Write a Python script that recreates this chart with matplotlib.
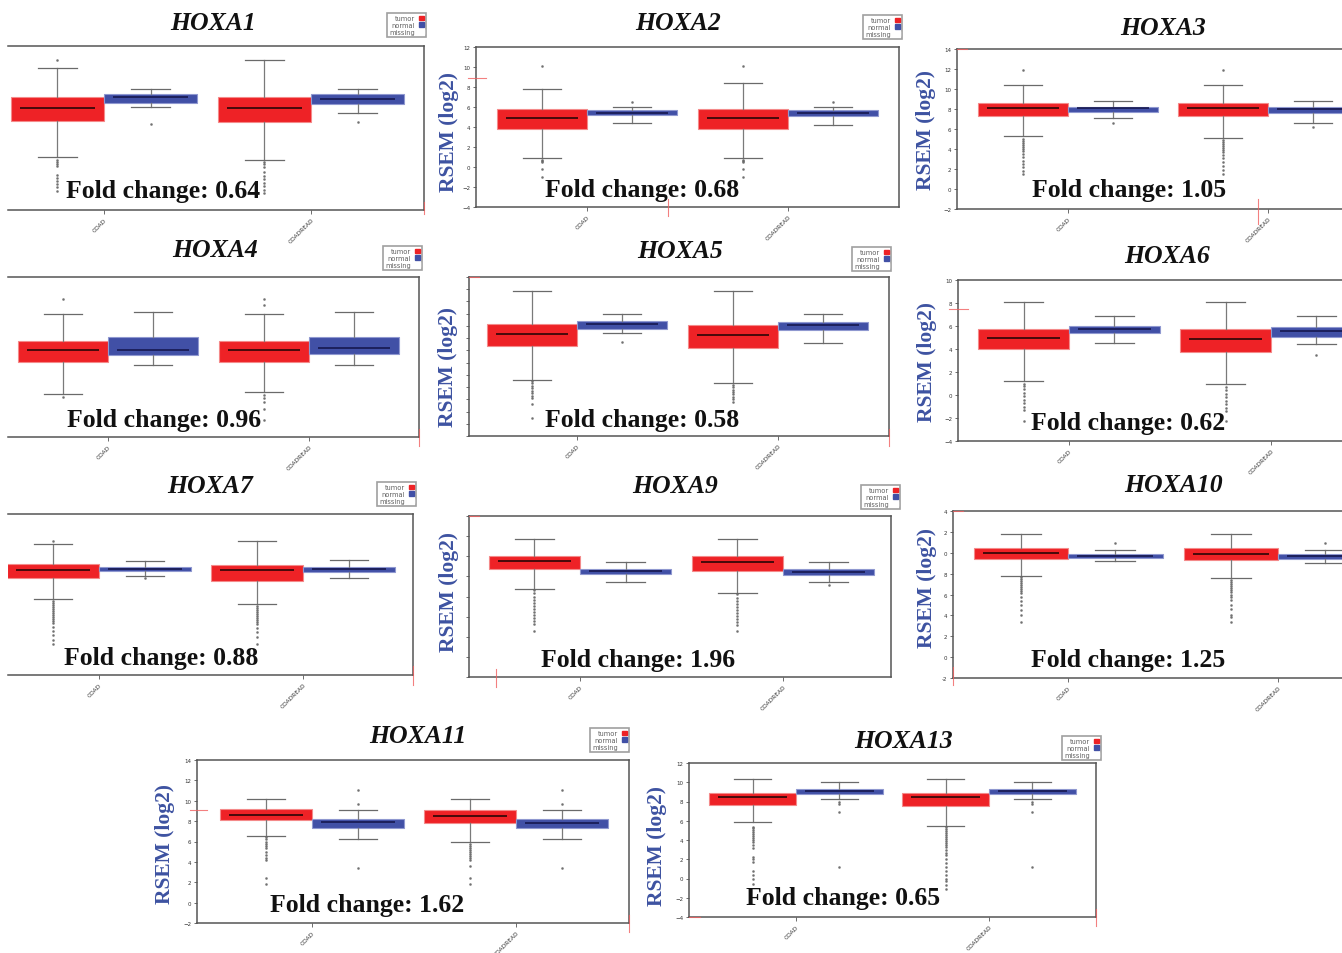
import matplotlib
matplotlib.use('Agg')
import matplotlib.pyplot as plt
from matplotlib.patches import Patch
from matplotlib.lines import Line2D

W, H = 1342, 954

# ---------------- data ----------------
genes = ['HOXA1', 'HOXA2', 'HOXA3', 'HOXA4', 'HOXA5', 'HOXA6',
         'HOXA7', 'HOXA9', 'HOXA10', 'HOXA11', 'HOXA13']
fold_changes = ['0.64', '0.68', '1.05', '0.96', '0.58', '0.62',
                '0.88', '1.96', '1.25', '1.62', '0.65']
cohorts = ['COAD', 'COADREAD']
groups = ['tumor', 'normal', 'missing']

# box stats per gene: [whislo, q1, med, q3, whishi]
# order: COAD tumor, COAD normal, COADREAD tumor, COADREAD normal
hoxa1_stats = [[1.17, 4.68, 5.95, 7.02, 9.85], [6.05, 6.44, 7.02, 7.32, 7.8],
               [0.88, 4.59, 5.95, 7.02, 10.63], [5.46, 6.34, 6.83, 7.32, 7.8]]
hoxa1_fliers = [[10.6, 0.9, 0.7, 0.5, 0.3, -0.6, -0.9, -1.2, -1.5, -1.8, -2.1], [4.4],
                [0.7, 0.5, 0.2, -0.3, -0.7, -1.0, -1.4, -1.7, -2.0, -2.3], [4.6]]

hoxa2_stats = [[0.9, 3.83, 4.9, 5.83, 7.83], [4.43, 5.17, 5.43, 5.67, 6.0],
               [0.9, 3.83, 4.9, 5.83, 8.43], [4.23, 5.1, 5.4, 5.67, 6.0]]
hoxa2_fliers = [[10.1, 0.7, 0.6, 0.5, -0.2, -1.0], [6.5],
                [10.1, 0.7, 0.6, 0.5, -0.2, -1.0], [6.5]]

hoxa3_stats = [[5.27, 7.33, 8.1, 8.6, 10.43], [7.07, 7.73, 8.1, 8.17, 8.77],
               [5.07, 7.27, 8.1, 8.6, 10.43], [6.57, 7.6, 8.0, 8.23, 8.77]]
hoxa3_fliers = [[11.9, 5.0, 4.8, 4.6, 4.4, 4.2, 4.0, 3.8, 3.5, 3.2, 2.8, 2.5, 2.2, 1.8, 1.5], [6.57],
                [11.9, 4.9, 4.7, 4.5, 4.3, 4.1, 3.9, 3.7, 3.4, 3.1, 2.7, 2.3, 1.9, 1.5], [6.23]]

hoxa4_stats = [[0.3, 3.53, 4.7, 5.57, 8.3], [3.2, 4.23, 4.7, 5.97, 8.53],
               [0.53, 3.53, 4.7, 5.57, 8.3], [3.2, 4.3, 4.9, 6.03, 8.53]]
hoxa4_fliers = [[9.8, 0.0], [],
                [9.8, 9.2, 0.23, -0.1, -0.47, -1.2, -2.27], []]

hoxa5_stats = [[2.61, 5.33, 6.37, 7.13, 9.86], [6.42, 6.78, 7.13, 7.4, 7.95],
               [2.36, 5.22, 6.23, 7.05, 9.86], [5.6, 6.64, 7.05, 7.32, 7.95]]
hoxa5_fliers = [[2.5, 2.3, 2.1, 1.9, 1.7, 1.5, 1.3, 1.1, 0.6, -0.5], [5.69],
                [2.2, 2.0, 1.8, 1.6, 1.4, 1.2, 1.0, 0.8], []]

hoxa6_stats = [[1.22, 3.97, 4.99, 5.77, 8.09], [4.49, 5.36, 5.71, 6.0, 6.87],
               [0.99, 3.77, 4.9, 5.71, 8.09], [4.41, 5.07, 5.57, 5.91, 6.87]]
hoxa6_fliers = [[1.0, 0.8, 0.5, 0.2, -0.1, -0.4, -0.7, -1.0, -1.3, -2.3], [],
                [0.7, 0.4, 0.1, -0.2, -0.5, -0.8, -1.1, -1.4, -2.3], [3.45]]

hoxa7_stats = [[3.56, 5.61, 6.44, 7.03, 9.02], [5.87, 6.37, 6.54, 6.77, 7.3],
               [3.06, 5.38, 6.44, 6.97, 9.28], [5.61, 6.21, 6.5, 6.77, 7.46]]
hoxa7_fliers = [[9.28, 3.4, 3.2, 3.0, 2.8, 2.6, 2.4, 2.2, 2.0, 1.8, 1.6, 1.4, 1.2, 0.8, 0.4, 0.0, -0.5, -0.9],
                [5.64],
                [2.9, 2.7, 2.5, 2.3, 2.1, 1.9, 1.7, 1.5, 1.3, 1.1, 0.7, 0.3, -0.2, -0.9], []]

hoxa9_stats = [[6.78, 8.77, 9.53, 10.03, 11.75], [7.44, 8.27, 8.54, 8.77, 9.43],
               [6.35, 8.54, 9.46, 9.99, 11.75], [7.44, 8.17, 8.47, 8.7, 9.43]]
hoxa9_fliers = [[6.6, 6.3, 6.0, 5.7, 5.4, 5.1, 4.8, 4.5, 4.2, 3.9, 3.6, 3.3, 2.6], [],
                [6.2, 5.9, 5.6, 5.3, 5.0, 4.7, 4.4, 4.1, 3.8, 3.5, 3.2, 2.6], [7.18]]

hoxa10_stats = [[7.82, 9.42, 9.97, 10.45, 11.82], [9.17, 9.49, 9.65, 9.84, 10.29],
                [7.57, 9.33, 9.9, 10.45, 11.82], [9.0, 9.42, 9.65, 9.84, 10.29]]
hoxa10_fliers = [[7.7, 7.5, 7.3, 7.1, 6.9, 6.7, 6.5, 6.3, 6.1, 5.8, 5.4, 5.0, 4.5, 4.0, 3.4], [10.96],
                 [7.4, 7.2, 7.0, 6.8, 6.6, 6.4, 6.2, 6.0, 5.8, 5.5, 5.0, 4.6, 4.0, 3.8, 3.4], [10.96]]
# the scanned axis shows only the last digit of 10, 12, 14
hoxa10_ytick_labels = ['-2', '0', '2', '4', '6', '8', '0', '2', '4']

hoxa11_stats = [[6.55, 8.08, 8.61, 9.16, 10.21], [6.29, 7.33, 7.92, 8.18, 9.1],
                [5.96, 7.86, 8.51, 9.1, 10.21], [6.29, 7.33, 7.86, 8.18, 9.1]]
hoxa11_fliers = [[6.4, 6.2, 6.0, 5.8, 5.6, 5.4, 5.0, 4.7, 4.4, 4.2, 2.37, 1.8], [11.06, 9.65, 3.44],
                 [5.8, 5.6, 5.4, 5.2, 5.0, 4.8, 4.6, 4.4, 4.2, 3.6, 2.37, 1.8], [11.06, 9.65, 3.44]]

hoxa13_stats = [[5.84, 7.61, 8.47, 8.89, 10.34], [8.3, 8.82, 9.06, 9.3, 10.03],
                [5.49, 7.5, 8.44, 8.89, 10.34], [8.3, 8.79, 9.06, 9.3, 10.03]]
hoxa13_fliers = [[5.4, 5.2, 5.0, 4.8, 4.6, 4.4, 4.2, 4.0, 3.8, 3.5, 3.2, 2.2, 2.0, 1.7, 0.8, 0.4, 0.0, -0.6],
                 [8.0, 7.7, 6.9, 1.2],
                 [5.3, 5.1, 4.9, 4.7, 4.5, 4.3, 4.1, 3.9, 3.7, 3.5, 3.3, 3.0, 2.7, 2.4, 2.0, 1.6, 1.2,
                  0.8, 0.4, 0.0, -0.3, -0.7, -1.1],
                 [8.0, 7.7, 6.9, 1.2]]

all_stats = [hoxa1_stats, hoxa2_stats, hoxa3_stats, hoxa4_stats, hoxa5_stats, hoxa6_stats,
             hoxa7_stats, hoxa9_stats, hoxa10_stats, hoxa11_stats, hoxa13_stats]
all_fliers = [hoxa1_fliers, hoxa2_fliers, hoxa3_fliers, hoxa4_fliers, hoxa5_fliers, hoxa6_fliers,
              hoxa7_fliers, hoxa9_fliers, hoxa10_fliers, hoxa11_fliers, hoxa13_fliers]

# ---------------- layout (pixels in the 1342x954 canvas) ----------------
# rect (l, t, r, b), x of the two ticks, ylim, ytick step, y style, title, fold text, ylabel, legend
layout = [
    dict(rect=(8, 47, 424, 211), ticks=(104, 311), ylim=(-4, 12), step=2, ystyle='none',
         title=(213, 30), fold=(163, 198), ylab=None, leg=(387, 14)),
    dict(rect=(476, 48, 899, 208), ticks=(587, 788), ylim=(-4, 12), step=2, ystyle='labels',
         title=(678, 30), fold=(642, 197), ylab=(449, 132), leg=(863, 16)),
    dict(rect=(957, 50, 1360, 210), ticks=(1068, 1268), ylim=(-2, 14), step=2, ystyle='labels',
         title=(1163, 35), fold=(1129, 197), ylab=(926, 130), leg=None),
    dict(rect=(8, 278, 419, 438), ticks=(108, 309), ylim=(-4, 12), step=2, ystyle='none',
         title=(215, 257), fold=(164, 427), ylab=None, leg=(383, 247)),
    dict(rect=(469, 278, 889, 437), ticks=(577, 778), ylim=(-2, 11), step=1, ystyle='marks',
         title=(680, 258), fold=(642, 427), ylab=(448, 367), leg=(852, 248)),
    dict(rect=(958, 281, 1360, 442), ticks=(1069, 1271), ylim=(-4, 10), step=2, ystyle='labels',
         title=(1167, 263), fold=(1128, 430), ylab=(927, 362), leg=None),
    dict(rect=(8, 515, 413, 676), ticks=(99, 303), ylim=(-4, 12), step=2, ystyle='none',
         title=(210, 493), fold=(161, 665), ylab=None, leg=(377, 483)),
    dict(rect=(469, 517, 891, 678), ticks=(580, 783), ylim=(-2, 14), step=2, ystyle='marks',
         title=(675, 493), fold=(638, 667), ylab=(449, 592), leg=(861, 486)),
    dict(rect=(953, 512, 1360, 679), ticks=(1068, 1278), ylim=(-2, 14), step=2, ystyle='custom',
         title=(1173, 492), fold=(1128, 667), ylab=(927, 588), leg=None),
    dict(rect=(197, 761, 629, 924), ticks=(312, 516), ylim=(-2, 14), step=2, ystyle='labels',
         title=(418, 743), fold=(367, 912), ylab=(165, 844), leg=(590, 729)),
    dict(rect=(689, 764, 1096, 918), ticks=(796, 989), ylim=(-4, 12), step=2, ystyle='labels',
         title=(903, 748), fold=(843, 905), ylab=(657, 846), leg=(1062, 737)),
]

RED = '#EE2226'
BLUE = '#4150A6'
LABEL_BLUE = '#3D52A1'
SERIF = ['Liberation Serif', 'DejaVu Serif']


def fx(x):
    return x / W


def fy(y):
    return 1 - y / H


fig = plt.figure(figsize=(W / 100, H / 100), dpi=100)
fig.patch.set_facecolor('white')

box_w = 0.45
for gene, fc, stats, fliers, lay in zip(genes, fold_changes, all_stats, all_fliers, layout):
    l, t, r, b = lay['rect']
    ax = fig.add_axes([fx(l), fy(b), (r - l) / W, (b - t) / H])
    t1, t2 = lay['ticks']
    sp = t2 - t1
    ax.set_xlim(1 + (l - t1) / sp, 1 + (r - t1) / sp)
    ax.set_ylim(*lay['ylim'])

    bxp_stats = []
    positions = []
    for i, s in enumerate(stats):
        bxp_stats.append(dict(whislo=s[0], q1=s[1], med=s[2], q3=s[3], whishi=s[4],
                              fliers=fliers[i]))
        cohort = i // 2 + 1
        positions.append(cohort - box_w / 2 if i % 2 == 0 else cohort + box_w / 2)

    res = ax.bxp(bxp_stats, positions=positions, widths=box_w, capwidths=0.19,
                 patch_artist=True, manage_ticks=False,
                 whiskerprops=dict(color='#7a7a7a', lw=0.9),
                 capprops=dict(color='#6a6a6a', lw=0.9),
                 flierprops=dict(marker='o', markersize=1.5, markerfacecolor='#707070',
                                 markeredgecolor='#555555', markeredgewidth=0.2, ls='none'),
                 medianprops=dict(lw=1.2))
    for i, patch in enumerate(res['boxes']):
        med = res['medians'][i]
        if i % 2 == 0:
            patch.set_facecolor(RED)
            patch.set_edgecolor('#F48A8A')
            med.set_color('#2a0606')
        else:
            patch.set_facecolor(BLUE)
            patch.set_edgecolor('#8F98D0')
            med.set_color('#161850')
        patch.set_linewidth(0.8)
        patch.set_zorder(2)
        # median line stops a little short of the box edges
        xd = med.get_xdata()
        inset = 0.1 * box_w
        med.set_xdata([xd[0] + inset, xd[-1] - inset])
        med.set_ydata([med.get_ydata()[0]] * 2)

    # axes styling
    for side in ['top', 'right', 'bottom', 'left']:
        ax.spines[side].set_color('#555555')
        ax.spines[side].set_linewidth(1.1)
    ax.set_xticks([1, 2])
    ax.set_xticklabels(cohorts, rotation=45, ha='right', rotation_mode='anchor',
                       fontsize=4.2, color='#333333')
    ax.tick_params(axis='x', length=3, width=0.6, color='#555555', pad=2)

    y0, y1 = lay['ylim']
    yt = list(range(y0, y1 + 1, lay['step']))
    if lay['ystyle'] == 'none':
        ax.spines['left'].set_visible(False)
        ax.set_yticks([])
    else:
        ax.set_yticks(yt)
        ax.tick_params(axis='y', length=2.5, width=0.6, color='#555555', pad=1.5,
                       labelsize=4, labelcolor='#333333')
        if lay['ystyle'] == 'marks':
            ax.set_yticklabels([''] * len(yt))
        elif lay['ystyle'] == 'custom':
            ax.set_yticklabels(hoxa10_ytick_labels)

    # title, fold change, y label
    tx, ty = lay['title']
    fig.text(fx(tx), fy(ty), gene, ha='center', va='baseline', fontsize=18.5,
             fontweight='bold', fontstyle='italic', family=SERIF, color='#111111')
    ftx, fty = lay['fold']
    fig.text(fx(ftx), fy(fty), 'Fold change: ' + fc, ha='center', va='baseline',
             fontsize=18.5, fontweight='bold', family=SERIF, color='#111111', zorder=5)
    if lay['ylab'] is not None:
        lx, ly = lay['ylab']
        fig.text(fx(lx), fy(ly), 'RSEM (log2)', ha='center', va='center', rotation=90,
                 fontsize=15.5, fontweight='bold', family=SERIF, color=LABEL_BLUE)

    if lay['leg'] is not None:
        gx, gy = lay['leg']
        handles = [Patch(facecolor=RED, edgecolor=RED),
                   Patch(facecolor=BLUE, edgecolor=BLUE),
                   Patch(facecolor='white', edgecolor='white')]
        leg = fig.legend(handles, groups, loc='upper left',
                         bbox_to_anchor=(fx(gx), fy(gy)), borderaxespad=0,
                         fontsize=4.8, markerfirst=False, handlelength=0.75,
                         handleheight=0.75, handletextpad=0.6, labelspacing=0.12,
                         borderpad=0.35, fancybox=False, framealpha=1)
        leg.get_frame().set_edgecolor('#a0a0a0')
        leg.get_frame().set_linewidth(1.2)
        for txt in leg.get_texts():
            txt.set_color('#606060')

# faint red registration marks seen on the original scan
red_marks = [((468, 486), (79, 79)), ((668, 668), (200, 217)), ((1258, 1258), (200, 225)),
             ((424, 424), (203, 215)), ((419, 419), (430, 447)), ((889, 889), (430, 447)),
             ((949, 968), (310, 310)), ((413, 413), (667, 686)), ((496, 496), (670, 688)),
             ((953, 953), (668, 686)), ((190, 207), (811, 811)), ((629, 629), (916, 933)),
             ((1096, 1096), (910, 927)), ((469, 479), (278, 278)), ((469, 479), (517, 517)),
             ((953, 963), (512, 512)), ((689, 700), (918, 918)), ((957, 967), (50, 50))]
for xs, ys in red_marks:
    fig.add_artist(Line2D([fx(xs[0]), fx(xs[1])], [fy(ys[0]), fy(ys[1])],
                          color='#F06060', lw=0.8, alpha=0.8))

fig.savefig('out.png', dpi=100, facecolor='white')
